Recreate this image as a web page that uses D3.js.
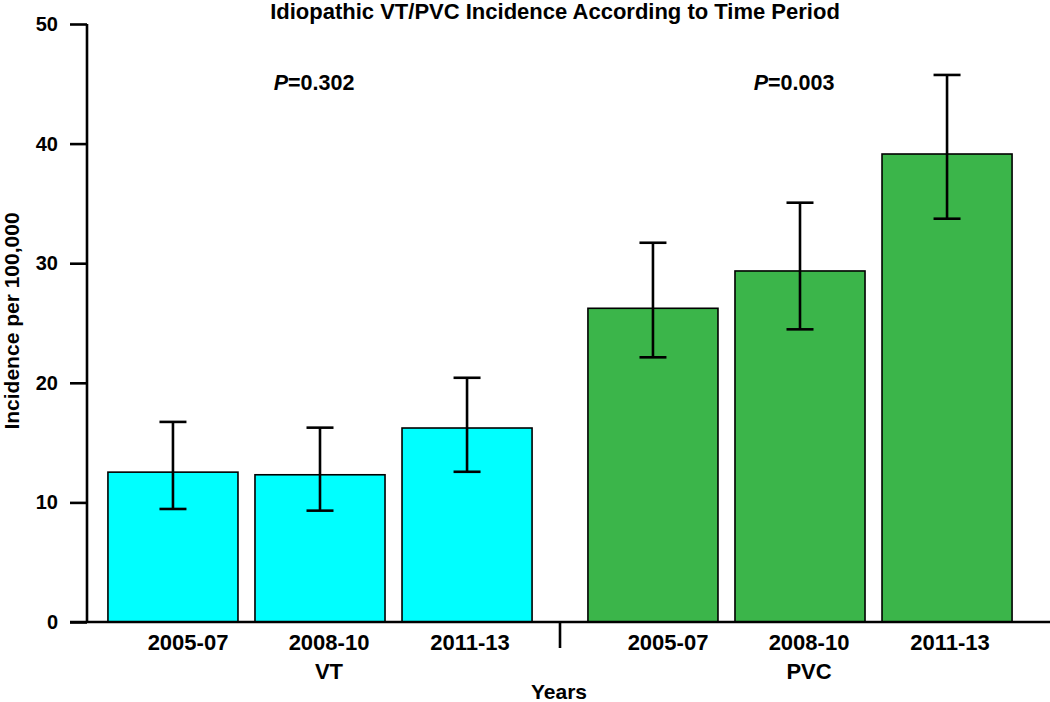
<!DOCTYPE html>
<html><head><meta charset="utf-8">
<script src="https://cdn.jsdelivr.net/npm/d3@7"></script>
<style>body{margin:0;background:#fff;} svg{display:block;font-family:"Liberation Sans",Arial,sans-serif;font-weight:bold;}</style>
</head><body>
<svg id="c" width="1050" height="702"></svg>
<script>
const groups = ["VT", "PVC"];
const periods = ["2005-07", "2008-10", "2011-13"];
const vtValues = [12.53, 12.31, 16.22];
const vtLower = [9.45, 9.31, 12.56];
const vtUpper = [16.73, 16.25, 20.42];
const pvcValues = [26.23, 29.35, 39.13];
const pvcLower = [22.13, 24.47, 33.72];
const pvcUpper = [31.71, 35.06, 45.74];
const pLabels = ["0.302", "0.003"];
const yTicks = [0, 10, 20, 30, 40, 50];
const colors = {VT: "#00FFFF", PVC: "#3BB54A"};

const svg = d3.select("#c");
const y = d3.scaleLinear().domain([0, 50]).range([622, 24]);
const xg = d3.scaleBand().domain(groups).range([80, 1040]).padding(0);
const xi = d3.scaleBand().domain(periods).range([0, xg.bandwidth()]).paddingInner(0.1156).paddingOuter(0.19);
const xl = d3.scalePoint().domain(periods).range([108, 390]);

const data = [];
groups.forEach(g => {
  const v = g === "VT" ? vtValues : pvcValues;
  const lo = g === "VT" ? vtLower : pvcLower;
  const hi = g === "VT" ? vtUpper : pvcUpper;
  periods.forEach((p, i) => data.push({g, p, v: v[i], lo: lo[i], hi: hi[i]}));
});

// bars
svg.append("g").selectAll("rect").data(data).join("rect")
  .attr("x", d => xg(d.g) + xi(d.p))
  .attr("y", d => y(d.v))
  .attr("width", xi.bandwidth())
  .attr("height", d => y(0) - y(d.v))
  .attr("fill", d => colors[d.g])
  .attr("stroke", "#000").attr("stroke-width", 1.6);

// error bars
const cx = d => xg(d.g) + xi(d.p) + xi.bandwidth() / 2;
const eb = svg.append("g").attr("stroke", "#000").attr("stroke-width", 2.6);
eb.selectAll("line.v").data(data).join("line").attr("class", "v")
  .attr("x1", cx).attr("x2", cx).attr("y1", d => y(d.lo)).attr("y2", d => y(d.hi));
eb.selectAll("line.t").data(data).join("line").attr("class", "t")
  .attr("x1", d => cx(d) - 13.5).attr("x2", d => cx(d) + 13.5).attr("y1", d => y(d.hi)).attr("y2", d => y(d.hi));
eb.selectAll("line.b").data(data).join("line").attr("class", "b")
  .attr("x1", d => cx(d) - 13.5).attr("x2", d => cx(d) + 13.5).attr("y1", d => y(d.lo)).attr("y2", d => y(d.lo));

// y axis
const yAxis = d3.axisLeft(y).tickValues(yTicks).tickSize(17).tickPadding(12).tickSizeOuter(0);
const ya = svg.append("g").attr("transform", "translate(87,0)").call(yAxis);
ya.select(".domain").attr("stroke-width", 2.6).attr("d", `M0,${y(0)}V${y(50)}`);
ya.selectAll(".tick line").attr("stroke-width", 2.6);
ya.selectAll(".tick text").attr("font-size", 20).attr("font-weight", "bold").attr("font-family", "Liberation Sans, Arial, sans-serif").attr("fill", "#000");

// x axis baseline
svg.append("line").attr("x1", 70).attr("x2", 1050).attr("y1", y(0)).attr("y2", y(0))
  .attr("stroke", "#000").attr("stroke-width", 2.6);
// group separator
svg.append("line").attr("x1", xg("PVC")).attr("x2", xg("PVC")).attr("y1", y(0)).attr("y2", y(0) + 26)
  .attr("stroke", "#000").attr("stroke-width", 2.6);

// category labels
svg.append("g").selectAll("text").data(data).join("text")
  .attr("x", d => xg(d.g) + xl(d.p)).attr("y", 650).attr("text-anchor", "middle").attr("font-size", 22).text(d => d.p);
// group labels
svg.append("g").selectAll("text").data(groups).join("text")
  .attr("x", g => xg(g) + xl(periods[1])).attr("y", 679).attr("text-anchor", "middle").attr("font-size", 22).text(g => g);

// P values
svg.append("g").selectAll("text").data(groups).join("text")
  .attr("x", g => xg(g) + 234)
  .attr("y", 90).attr("text-anchor", "middle").attr("font-size", 21.5)
  .each(function(g, i) {
    const t = d3.select(this);
    t.append("tspan").attr("font-style", "italic").text("P");
    t.append("tspan").text("=" + pLabels[i]);
  });

// title
svg.append("text").attr("x", 555).attr("y", 19).attr("text-anchor", "middle").attr("font-size", 22)
  .text("Idiopathic VT/PVC Incidence According to Time Period");
// axis titles
svg.append("text").attr("x", 559).attr("y", 699).attr("text-anchor", "middle").attr("font-size", 21).text("Years");
svg.append("text").attr("transform", "translate(19,321) rotate(-90)").attr("text-anchor", "middle").attr("font-size", 21)
  .text("Incidence per 100,000");
</script>
</body></html>
